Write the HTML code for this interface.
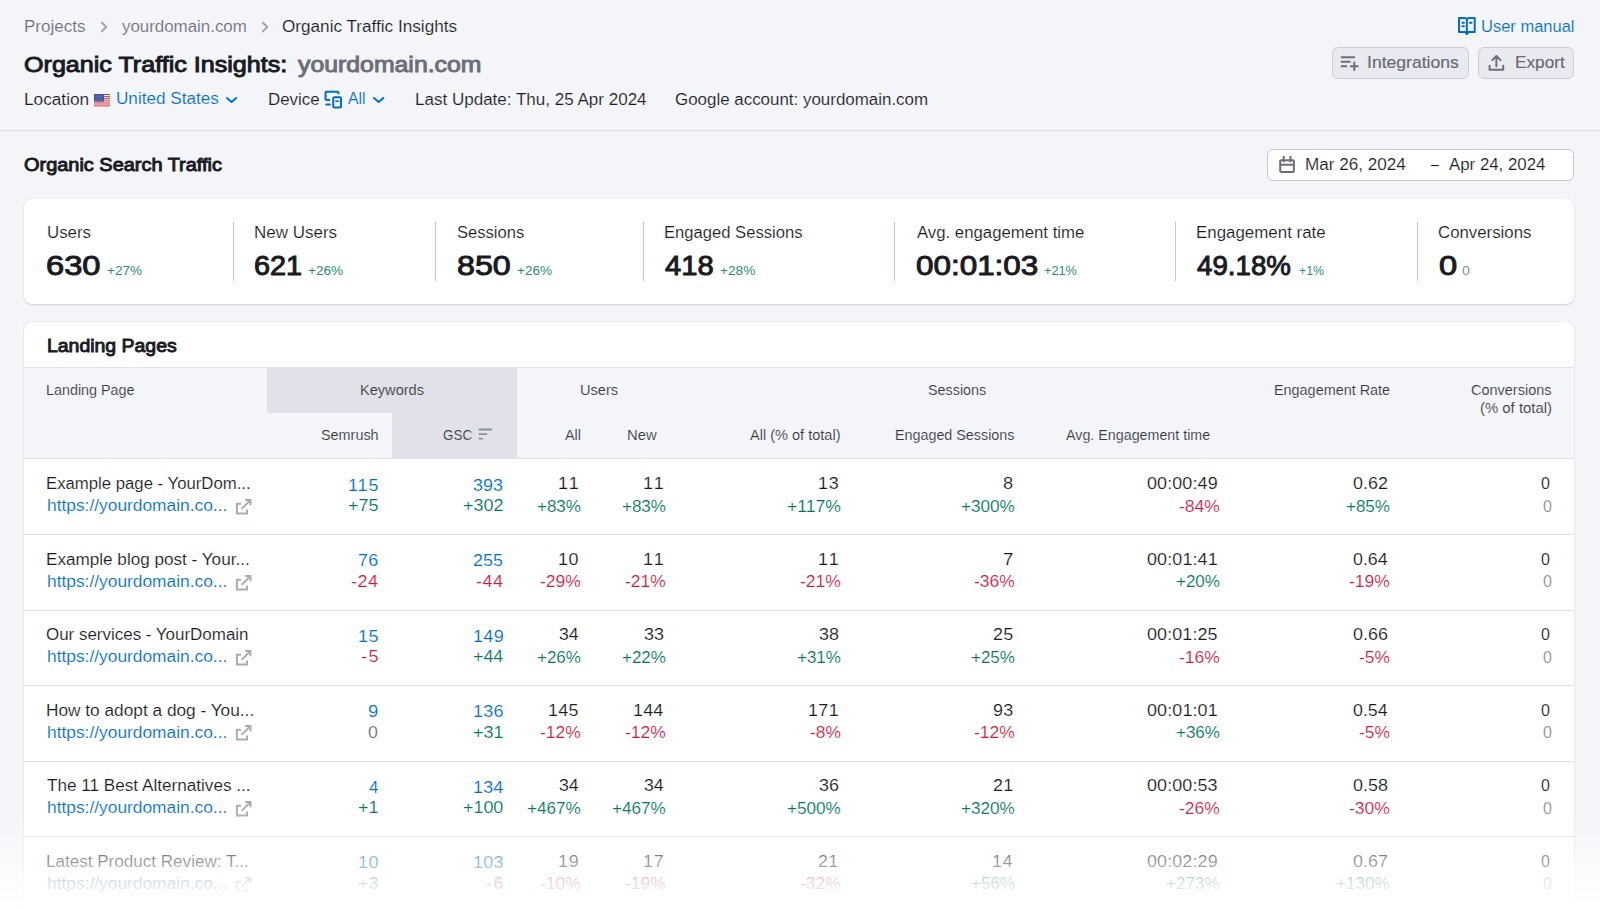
<!DOCTYPE html>
<html lang="en"><head><meta charset="utf-8"><title>Organic Traffic Insights</title>
<style>
*{box-sizing:border-box;margin:0;padding:0}
h1,h2{font-weight:400}
html,body{width:1600px;height:909px;overflow:hidden}
body{background:#f4f5f9;font-family:"Liberation Sans",sans-serif;color:#191b23;position:relative}
.t{position:absolute;white-space:nowrap;line-height:1;display:block;text-decoration:none;transform-origin:0 50%}
.abs{position:absolute}
.card{position:absolute;background:#fff;border-radius:8px;box-shadow:0 0 1px rgba(25,27,35,.16),0 1px 2px rgba(25,27,35,.12)}
.vline{position:absolute;width:1px;background:#c4c7cf}
.hline{position:absolute;height:1px;background:#e0e1e9}
.btn{position:absolute;background:#e9eaf0;border:1px solid #cdcfd8;border-radius:6px}
svg{position:absolute;overflow:visible}
</style></head>
<body>
<header>
<nav>
<a class="t" style="left:23.82px;top:19px;font-size:16px;color:#6c6e79;transform:scaleX(1.0648);-webkit-text-stroke:0.15px #f4f5f9;">Projects</a>
<svg style="left:100px;top:20px" width="9" height="14" viewBox="0 0 9 14"><path d="M1.9 2.7 L6.3 7 L1.9 11.3" fill="none" stroke="#a2a5b0" stroke-width="2" stroke-linecap="round" stroke-linejoin="round"/></svg>
<a class="t" style="left:122.13px;top:19px;font-size:16px;color:#6c6e79;transform:scaleX(1.0549);-webkit-text-stroke:0.15px #f4f5f9;">yourdomain.com</a>
<svg style="left:261.4px;top:20px" width="9" height="14" viewBox="0 0 9 14"><path d="M1.9 2.7 L6.3 7 L1.9 11.3" fill="none" stroke="#a2a5b0" stroke-width="2" stroke-linecap="round" stroke-linejoin="round"/></svg>
<span class="t" style="left:282.46px;top:19px;font-size:16px;color:#191b23;transform:scaleX(1.0717);-webkit-text-stroke:0.15px #f4f5f9;">Organic Traffic Insights</span>
</nav>
<h1 class="t" style="left:24.10px;top:54px;font-size:22px;color:#191b23;transform:scaleX(1.1414);-webkit-text-stroke:0.95px #191b23;">Organic Traffic Insights:</h1>
<span class="t" style="left:298.33px;top:54px;font-size:22px;color:#6c6e79;transform:scaleX(1.1282);-webkit-text-stroke:0.95px #6c6e79;">yourdomain.com</span>
<span class="t" style="left:23.81px;top:92px;font-size:16px;color:#191b23;transform:scaleX(1.0772);-webkit-text-stroke:0.15px #f4f5f9;">Location</span>
<svg style="left:94px;top:94px" width="16" height="12.4" viewBox="0 0 16 12.4"><rect width="16" height="12.4" fill="#fff"/><rect y="0.00" width="16" height="0.95" fill="#d22f3c"/><rect y="1.90" width="16" height="0.95" fill="#d22f3c"/><rect y="3.80" width="16" height="0.95" fill="#d22f3c"/><rect y="5.70" width="16" height="0.95" fill="#d22f3c"/><rect y="7.60" width="16" height="0.95" fill="#d22f3c"/><rect y="9.50" width="16" height="0.95" fill="#d22f3c"/><rect y="11.40" width="16" height="0.95" fill="#d22f3c"/><rect width="10" height="7.6" fill="#3c4f9f"/><circle cx="1.20" cy="1.10" r="0.38" fill="#c9cfe8"/><circle cx="3.10" cy="1.10" r="0.38" fill="#c9cfe8"/><circle cx="5.00" cy="1.10" r="0.38" fill="#c9cfe8"/><circle cx="6.90" cy="1.10" r="0.38" fill="#c9cfe8"/><circle cx="8.80" cy="1.10" r="0.38" fill="#c9cfe8"/><circle cx="2.15" cy="2.45" r="0.38" fill="#c9cfe8"/><circle cx="4.05" cy="2.45" r="0.38" fill="#c9cfe8"/><circle cx="5.95" cy="2.45" r="0.38" fill="#c9cfe8"/><circle cx="7.85" cy="2.45" r="0.38" fill="#c9cfe8"/><circle cx="1.20" cy="3.80" r="0.38" fill="#c9cfe8"/><circle cx="3.10" cy="3.80" r="0.38" fill="#c9cfe8"/><circle cx="5.00" cy="3.80" r="0.38" fill="#c9cfe8"/><circle cx="6.90" cy="3.80" r="0.38" fill="#c9cfe8"/><circle cx="8.80" cy="3.80" r="0.38" fill="#c9cfe8"/><circle cx="2.15" cy="5.15" r="0.38" fill="#c9cfe8"/><circle cx="4.05" cy="5.15" r="0.38" fill="#c9cfe8"/><circle cx="5.95" cy="5.15" r="0.38" fill="#c9cfe8"/><circle cx="7.85" cy="5.15" r="0.38" fill="#c9cfe8"/><circle cx="1.20" cy="6.50" r="0.38" fill="#c9cfe8"/><circle cx="3.10" cy="6.50" r="0.38" fill="#c9cfe8"/><circle cx="5.00" cy="6.50" r="0.38" fill="#c9cfe8"/><circle cx="6.90" cy="6.50" r="0.38" fill="#c9cfe8"/><circle cx="8.80" cy="6.50" r="0.38" fill="#c9cfe8"/></svg>
<span class="t" style="left:116.00px;top:91px;font-size:16px;color:#006dca;transform:scaleX(1.0699);-webkit-text-stroke:0.15px #f4f5f9;">United States</span>
<svg style="left:225px;top:95px" width="14" height="10" viewBox="0 0 14 10"><path d="M2 3 L6.6 6.9 L11.2 3" fill="none" stroke="#006dca" stroke-width="2" stroke-linecap="round" stroke-linejoin="round"/></svg>
<span class="t" style="left:268.18px;top:92px;font-size:16px;color:#191b23;transform:scaleX(1.0564);-webkit-text-stroke:0.15px #f4f5f9;">Device</span>
<svg style="left:324px;top:89.5px" width="19" height="19" viewBox="0 0 19 19"><path d="M1.5 10 V2.9 Q1.5 1.75 2.7 1.75 H13.3 Q14.5 1.75 14.5 2.9 V4.2 M1.5 10 H6" fill="none" stroke="#006dca" stroke-width="2"/><path d="M2.2 14.6 H5.8" fill="none" stroke="#006dca" stroke-width="2" stroke-linecap="round"/><rect x="9.25" y="7.25" width="7.75" height="10.25" rx="1" fill="none" stroke="#006dca" stroke-width="2"/><path d="M11.8 11.3 H14.6" fill="none" stroke="#006dca" stroke-width="1.4" stroke-linecap="round"/></svg>
<span class="t" style="left:348.30px;top:91px;font-size:16px;color:#006dca;transform:scaleX(0.9843);-webkit-text-stroke:0.15px #f4f5f9;">All</span>
<svg style="left:372px;top:95px" width="14" height="10" viewBox="0 0 14 10"><path d="M2 3 L6.6 6.9 L11.2 3" fill="none" stroke="#006dca" stroke-width="2" stroke-linecap="round" stroke-linejoin="round"/></svg>
<span class="t" style="left:415.02px;top:92px;font-size:16px;color:#191b23;transform:scaleX(1.0640);-webkit-text-stroke:0.15px #f4f5f9;">Last Update: Thu, 25 Apr 2024</span>
<span class="t" style="left:674.92px;top:92px;font-size:16px;color:#191b23;transform:scaleX(1.0578);-webkit-text-stroke:0.15px #f4f5f9;">Google account: yourdomain.com</span>
<svg style="left:1458.4px;top:16.9px" width="18" height="18" viewBox="0 0 18 18"><path d="M1 1 H7.2 L8.85 2.3 L10.5 1 H16.7 V15 H10.6 L8.85 17.2 L7.1 15 H1 Z M8.85 2.3 V16.5" fill="none" stroke="#006dca" stroke-width="2" stroke-linejoin="round"/><path d="M4.3 5.8 H5.9 M4.3 9.2 H5.9 M11.9 5.8 H13.5" fill="none" stroke="#006dca" stroke-width="2" stroke-linecap="round"/></svg>
<a class="t" style="left:1481.25px;top:19px;font-size:16px;color:#006dca;transform:scaleX(1.0308);-webkit-text-stroke:0.15px #f4f5f9;">User manual</a>
<div class="btn" style="left:1332px;top:47px;width:137px;height:31.5px"></div>
<svg style="left:1340px;top:55px" width="19" height="17" viewBox="0 0 19 17"><path d="M1.6 2.2 H14.2 M1.6 6.7 H9.8 M1.6 11.2 H6.2 M10.8 11.2 H17.8 M14.3 7.6 V15" fill="none" stroke="#6c6e79" stroke-width="2" stroke-linecap="round"/></svg>
<span class="t" style="left:1367.41px;top:55px;font-size:16px;color:#676975;transform:scaleX(1.0985);-webkit-text-stroke:0.15px #676975;">Integrations</span>
<div class="btn" style="left:1478px;top:47px;width:96px;height:31.5px"></div>
<svg style="left:1488px;top:54px" width="17" height="17" viewBox="0 0 17 17"><path d="M8.4 12.2 V2.4 M4.3 6.1 L8.4 2 L12.5 6.1" fill="none" stroke="#6c6e79" stroke-width="2" stroke-linecap="round" stroke-linejoin="round"/><path d="M1.6 11.8 V15.7 H15.2 V11.8" fill="none" stroke="#6c6e79" stroke-width="2" stroke-linecap="round" stroke-linejoin="round"/></svg>
<span class="t" style="left:1514.57px;top:55px;font-size:16px;color:#676975;transform:scaleX(1.0758);-webkit-text-stroke:0.15px #676975;">Export</span>
<div class="hline" style="left:0;top:130px;width:1600px;background:#d9dbe3"></div>
</header>
<section>
<h2 class="t" style="left:24.32px;top:157px;font-size:17.5px;color:#191b23;transform:scaleX(1.1390);-webkit-text-stroke:0.9px #191b23;">Organic Search Traffic</h2>
<div class="abs" style="left:1267px;top:149px;width:307.3px;height:31.5px;background:#fff;border:1px solid #c4c7cf;border-radius:6px"></div>
<svg style="left:1279px;top:155px" width="17" height="19" viewBox="0 0 17 19"><rect x="1.2" y="5.2" width="13.7" height="11.7" rx="1" fill="none" stroke="#6c6e79" stroke-width="2"/><path d="M1.2 9.8 H14.9 M4.7 1 V7.2 M11.5 1 V7.2" fill="none" stroke="#6c6e79" stroke-width="2"/></svg>
<span class="t" style="left:1305.02px;top:157px;font-size:16px;color:#191b23;transform:scaleX(1.0684);-webkit-text-stroke:0.15px #fff;">Mar 26, 2024</span>
<span class="t" style="left:1430.98px;top:157px;font-size:16px;color:#191b23;transform:scaleX(0.8872);-webkit-text-stroke:0.15px #fff;">–</span>
<span class="t" style="left:1449.39px;top:157px;font-size:16px;color:#191b23;transform:scaleX(1.0527);-webkit-text-stroke:0.15px #fff;">Apr 24, 2024</span>
<div class="card" style="left:24px;top:199px;width:1550.3px;height:104.5px"></div>
<span class="t" style="left:46.52px;top:225px;font-size:16px;color:#191b23;transform:scaleX(1.0515);-webkit-text-stroke:0.15px #fff;">Users</span>
<span class="t" style="left:46.27px;top:253px;font-size:27px;color:#191b23;transform:scaleX(1.2107);-webkit-text-stroke:0.95px #191b23;">630</span>
<span class="t" style="left:106.69px;top:265px;font-size:12.5px;color:#2f8a78;transform:scaleX(1.0797);">+27%</span>
<div class="vline" style="left:232.5px;top:222px;height:58.5px"></div>
<span class="t" style="left:253.93px;top:225px;font-size:16px;color:#191b23;transform:scaleX(1.0614);-webkit-text-stroke:0.15px #fff;">New Users</span>
<span class="t" style="left:253.89px;top:253px;font-size:27px;color:#191b23;transform:scaleX(1.0680);-webkit-text-stroke:0.95px #191b23;">621</span>
<span class="t" style="left:308.44px;top:265px;font-size:12.5px;color:#2f8a78;transform:scaleX(1.0877);">+26%</span>
<div class="vline" style="left:435.0px;top:222px;height:58.5px"></div>
<span class="t" style="left:456.52px;top:225px;font-size:16px;color:#191b23;transform:scaleX(1.0360);-webkit-text-stroke:0.15px #fff;">Sessions</span>
<span class="t" style="left:456.52px;top:253px;font-size:27px;color:#191b23;transform:scaleX(1.1938);-webkit-text-stroke:0.95px #191b23;">850</span>
<span class="t" style="left:516.69px;top:265px;font-size:12.5px;color:#2f8a78;transform:scaleX(1.0797);">+26%</span>
<div class="vline" style="left:643.0px;top:222px;height:58.5px"></div>
<span class="t" style="left:664.46px;top:225px;font-size:16px;color:#191b23;transform:scaleX(1.0379);-webkit-text-stroke:0.15px #fff;">Engaged Sessions</span>
<span class="t" style="left:665.19px;top:253px;font-size:27px;color:#191b23;transform:scaleX(1.0803);-webkit-text-stroke:0.95px #191b23;">418</span>
<span class="t" style="left:719.68px;top:265px;font-size:12.5px;color:#2f8a78;transform:scaleX(1.0957);">+28%</span>
<div class="vline" style="left:894.0px;top:222px;height:58.5px"></div>
<span class="t" style="left:916.79px;top:225px;font-size:16px;color:#191b23;transform:scaleX(1.0469);-webkit-text-stroke:0.15px #fff;">Avg. engagement time</span>
<span class="t" style="left:915.68px;top:253px;font-size:27px;color:#191b23;transform:scaleX(1.1632);-webkit-text-stroke:0.95px #191b23;">00:01:03</span>
<span class="t" style="left:1043.73px;top:265px;font-size:12.5px;color:#2f8a78;transform:scaleX(1.0158);">+21%</span>
<div class="vline" style="left:1175.0px;top:222px;height:58.5px"></div>
<span class="t" style="left:1196.43px;top:225px;font-size:16px;color:#191b23;transform:scaleX(1.0563);-webkit-text-stroke:0.15px #fff;">Engagement rate</span>
<span class="t" style="left:1197.20px;top:253px;font-size:27px;color:#191b23;transform:scaleX(1.0254);-webkit-text-stroke:0.95px #191b23;">49.18%</span>
<span class="t" style="left:1298.75px;top:265px;font-size:12.5px;color:#2f8a78;transform:scaleX(0.9772);">+1%</span>
<div class="vline" style="left:1417.0px;top:222px;height:58.5px"></div>
<span class="t" style="left:1438.42px;top:225px;font-size:16px;color:#191b23;transform:scaleX(1.0500);-webkit-text-stroke:0.15px #fff;">Conversions</span>
<span class="t" style="left:1438.65px;top:253px;font-size:27px;color:#191b23;transform:scaleX(1.2092);-webkit-text-stroke:0.95px #191b23;">0</span>
<span class="t" style="left:1462.30px;top:265px;font-size:12.5px;color:#898d9a;transform:scaleX(1.1305);">0</span>
</section>
<section>
<div class="card" style="left:24px;top:322px;width:1550.3px;height:640px;overflow:hidden"><div class="abs" style="left:0;top:45px;width:1551px;height:92px;background:#f4f5f9;border-top:1px solid #e0e1e9;border-bottom:1px solid #e0e1e9"></div><div class="abs" style="left:243px;top:46px;width:249.6px;height:45px;background:#e0e1e9"></div><div class="abs" style="left:367.8px;top:91px;width:124.8px;height:45.5px;background:#e0e1e9"></div></div>
<h2 class="t" style="left:46.69px;top:337px;font-size:18px;color:#191b23;transform:scaleX(1.0799);-webkit-text-stroke:0.9px #191b23;">Landing Pages</h2>
<span class="t" style="left:46.26px;top:383px;font-size:14px;color:#363944;transform:scaleX(1.0244);-webkit-text-stroke:0.131px #f4f5f9;">Landing Page</span>
<span class="t" style="left:359.69px;top:383px;font-size:14px;color:#363944;transform:scaleX(1.0414);-webkit-text-stroke:0.131px #e0e1e9;">Keywords</span>
<span class="t" style="left:579.50px;top:383px;font-size:14px;color:#363944;transform:scaleX(1.0439);-webkit-text-stroke:0.131px #f4f5f9;">Users</span>
<span class="t" style="left:927.83px;top:383px;font-size:14px;color:#363944;transform:scaleX(1.0256);-webkit-text-stroke:0.131px #f4f5f9;">Sessions</span>
<span class="t" style="left:1274.25px;top:383px;font-size:14px;color:#363944;transform:scaleX(1.0284);-webkit-text-stroke:0.131px #f4f5f9;">Engagement Rate</span>
<span class="t" style="left:1471.40px;top:383px;font-size:14px;color:#363944;transform:scaleX(1.0345);-webkit-text-stroke:0.131px #f4f5f9;">Conversions</span>
<span class="t" style="left:1480.31px;top:401px;font-size:14px;color:#363944;transform:scaleX(1.0635);-webkit-text-stroke:0.131px #f4f5f9;">(% of total)</span>
<span class="t" style="left:321.08px;top:428px;font-size:14px;color:#363944;transform:scaleX(1.0286);-webkit-text-stroke:0.131px #f4f5f9;">Semrush</span>
<span class="t" style="left:442.61px;top:428px;font-size:14px;color:#363944;transform:scaleX(0.9581);-webkit-text-stroke:0.131px #e0e1e9;">GSC</span>
<svg style="left:478px;top:428px" width="15" height="12" viewBox="0 0 15 12"><path d="M1.4 1.5 H13.2 M1.4 6.1 H8.4 M1.4 10.6 H4.2" fill="none" stroke="#8a8e9b" stroke-width="1.8" stroke-linecap="round"/></svg>
<span class="t" style="left:565.00px;top:428px;font-size:14px;color:#363944;transform:scaleX(1.0302);-webkit-text-stroke:0.131px #f4f5f9;">All</span>
<span class="t" style="left:626.52px;top:428px;font-size:14px;color:#363944;transform:scaleX(1.0575);-webkit-text-stroke:0.131px #f4f5f9;">New</span>
<span class="t" style="left:750.20px;top:428px;font-size:14px;color:#363944;transform:scaleX(1.0382);-webkit-text-stroke:0.131px #f4f5f9;">All (% of total)</span>
<span class="t" style="left:895.36px;top:428px;font-size:14px;color:#363944;transform:scaleX(1.0229);-webkit-text-stroke:0.131px #f4f5f9;">Engaged Sessions</span>
<span class="t" style="left:1066.11px;top:428px;font-size:14px;color:#363944;transform:scaleX(1.0199);-webkit-text-stroke:0.131px #f4f5f9;">Avg. Engagement time</span>
<span class="t" style="left:46.45px;top:476px;font-size:16px;color:#191b23;transform:scaleX(1.0458);-webkit-text-stroke:0.15px #fff;">Example page - YourDom...</span>
<a class="t" style="left:46.62px;top:498px;font-size:16px;color:#006dca;transform:scaleX(1.0843);-webkit-text-stroke:0.15px #fff;">https://yourdomain.co...</a>
<svg style="left:235px;top:498px" width="17" height="17" viewBox="0 0 17 17"><path d="M6 5.7 H1.9 V15.5 H12 V11.4 M6.6 10.9 L15.2 2.3 M10.2 2 H15.5 V7.3" fill="none" stroke="#a9abb6" stroke-width="2"/></svg>
<span class="t" style="left:347.70px;top:478px;font-size:16px;color:#006dca;letter-spacing:0.878px;transform:scaleX(1.1200);-webkit-text-stroke:0.15px #fff;">115</span>
<span class="t" style="left:347.84px;top:498px;font-size:16px;color:#00755f;transform:scaleX(1.1199);-webkit-text-stroke:0.15px #fff;">+75</span>
<span class="t" style="left:473.38px;top:478px;font-size:16px;color:#006dca;transform:scaleX(1.1196);-webkit-text-stroke:0.15px #fff;">393</span>
<span class="t" style="left:462.89px;top:498px;font-size:16px;color:#00755f;letter-spacing:0.039px;transform:scaleX(1.1200);-webkit-text-stroke:0.15px #fff;">+302</span>
<span class="t" style="left:557.85px;top:476px;font-size:16px;color:#191b23;letter-spacing:1.880px;transform:scaleX(1.1200);-webkit-text-stroke:0.15px #fff;">11</span>
<span class="t" style="left:536.59px;top:499px;font-size:16px;color:#00755f;transform:scaleX(1.0611);-webkit-text-stroke:0.15px #fff;">+83%</span>
<span class="t" style="left:643.15px;top:476px;font-size:16px;color:#191b23;letter-spacing:1.880px;transform:scaleX(1.1200);-webkit-text-stroke:0.15px #fff;">11</span>
<span class="t" style="left:621.89px;top:499px;font-size:16px;color:#00755f;transform:scaleX(1.0611);-webkit-text-stroke:0.15px #fff;">+83%</span>
<span class="t" style="left:817.95px;top:476px;font-size:16px;color:#191b23;letter-spacing:0.614px;transform:scaleX(1.1200);-webkit-text-stroke:0.15px #fff;">13</span>
<span class="t" style="left:786.71px;top:499px;font-size:16px;color:#00755f;transform:scaleX(1.0982);-webkit-text-stroke:0.15px #fff;">+117%</span>
<span class="t" style="left:1002.78px;top:476px;font-size:16px;color:#191b23;transform:scaleX(1.1348);-webkit-text-stroke:0.15px #fff;">8</span>
<span class="t" style="left:961.03px;top:499px;font-size:16px;color:#00755f;transform:scaleX(1.0715);-webkit-text-stroke:0.15px #fff;">+300%</span>
<span class="t" style="left:1146.92px;top:476px;font-size:16px;color:#191b23;letter-spacing:0.110px;transform:scaleX(1.1200);-webkit-text-stroke:0.15px #fff;">00:00:49</span>
<span class="t" style="left:1178.64px;top:499px;font-size:16px;color:#cf1a3f;transform:scaleX(1.0941);-webkit-text-stroke:0.15px #fff;">-84%</span>
<span class="t" style="left:1353.37px;top:476px;font-size:16px;color:#191b23;letter-spacing:0.042px;transform:scaleX(1.1200);-webkit-text-stroke:0.15px #fff;">0.62</span>
<span class="t" style="left:1346.39px;top:499px;font-size:16px;color:#00755f;transform:scaleX(1.0611);-webkit-text-stroke:0.15px #fff;">+85%</span>
<span class="t" style="left:1540.90px;top:476px;font-size:16px;color:#191b23;-webkit-text-stroke:0.15px #fff;">0</span>
<span class="t" style="left:1542.90px;top:499px;font-size:16px;color:#898d9a;-webkit-text-stroke:0.15px #fff;">0</span>
<div class="hline" style="left:24px;top:534.0px;width:1550.5px"></div>
<span class="t" style="left:46.42px;top:552px;font-size:16px;color:#191b23;transform:scaleX(1.0701);-webkit-text-stroke:0.15px #fff;">Example blog post - Your...</span>
<a class="t" style="left:46.62px;top:574px;font-size:16px;color:#006dca;transform:scaleX(1.0843);-webkit-text-stroke:0.15px #fff;">https://yourdomain.co...</a>
<svg style="left:235px;top:574px" width="17" height="17" viewBox="0 0 17 17"><path d="M6 5.7 H1.9 V15.5 H12 V11.4 M6.6 10.9 L15.2 2.3 M10.2 2 H15.5 V7.3" fill="none" stroke="#a9abb6" stroke-width="2"/></svg>
<span class="t" style="left:358.10px;top:553px;font-size:16px;color:#006dca;letter-spacing:0.216px;transform:scaleX(1.1200);-webkit-text-stroke:0.15px #fff;">76</span>
<span class="t" style="left:350.92px;top:574px;font-size:16px;color:#cf1a3f;letter-spacing:0.531px;transform:scaleX(1.1200);-webkit-text-stroke:0.15px #fff;">-24</span>
<span class="t" style="left:473.16px;top:553px;font-size:16px;color:#006dca;letter-spacing:0.077px;transform:scaleX(1.1200);-webkit-text-stroke:0.15px #fff;">255</span>
<span class="t" style="left:475.92px;top:574px;font-size:16px;color:#cf1a3f;letter-spacing:0.531px;transform:scaleX(1.1200);-webkit-text-stroke:0.15px #fff;">-44</span>
<span class="t" style="left:557.85px;top:552px;font-size:16px;color:#191b23;letter-spacing:0.536px;transform:scaleX(1.1200);-webkit-text-stroke:0.15px #fff;">10</span>
<span class="t" style="left:539.64px;top:574px;font-size:16px;color:#cf1a3f;transform:scaleX(1.0941);-webkit-text-stroke:0.15px #fff;">-29%</span>
<span class="t" style="left:643.15px;top:552px;font-size:16px;color:#191b23;letter-spacing:1.880px;transform:scaleX(1.1200);-webkit-text-stroke:0.15px #fff;">11</span>
<span class="t" style="left:624.94px;top:574px;font-size:16px;color:#cf1a3f;transform:scaleX(1.0941);-webkit-text-stroke:0.15px #fff;">-21%</span>
<span class="t" style="left:817.95px;top:552px;font-size:16px;color:#191b23;letter-spacing:1.880px;transform:scaleX(1.1200);-webkit-text-stroke:0.15px #fff;">11</span>
<span class="t" style="left:799.74px;top:574px;font-size:16px;color:#cf1a3f;transform:scaleX(1.0941);-webkit-text-stroke:0.15px #fff;">-21%</span>
<span class="t" style="left:1002.60px;top:552px;font-size:16px;color:#191b23;transform:scaleX(1.1722);-webkit-text-stroke:0.15px #fff;">7</span>
<span class="t" style="left:974.04px;top:574px;font-size:16px;color:#cf1a3f;transform:scaleX(1.0941);-webkit-text-stroke:0.15px #fff;">-36%</span>
<span class="t" style="left:1146.92px;top:552px;font-size:16px;color:#191b23;letter-spacing:0.113px;transform:scaleX(1.1200);-webkit-text-stroke:0.15px #fff;">00:01:41</span>
<span class="t" style="left:1175.59px;top:574px;font-size:16px;color:#00755f;transform:scaleX(1.0611);-webkit-text-stroke:0.15px #fff;">+20%</span>
<span class="t" style="left:1353.37px;top:552px;font-size:16px;color:#191b23;transform:scaleX(1.1122);-webkit-text-stroke:0.15px #fff;">0.64</span>
<span class="t" style="left:1349.44px;top:574px;font-size:16px;color:#cf1a3f;transform:scaleX(1.0941);-webkit-text-stroke:0.15px #fff;">-19%</span>
<span class="t" style="left:1540.90px;top:552px;font-size:16px;color:#191b23;-webkit-text-stroke:0.15px #fff;">0</span>
<span class="t" style="left:1542.90px;top:574px;font-size:16px;color:#898d9a;-webkit-text-stroke:0.15px #fff;">0</span>
<div class="hline" style="left:24px;top:609.5px;width:1550.5px"></div>
<span class="t" style="left:46.47px;top:627px;font-size:16px;color:#191b23;transform:scaleX(1.0592);-webkit-text-stroke:0.15px #fff;">Our services - YourDomain</span>
<a class="t" style="left:46.62px;top:649px;font-size:16px;color:#006dca;transform:scaleX(1.0843);-webkit-text-stroke:0.15px #fff;">https://yourdomain.co...</a>
<svg style="left:235px;top:649px" width="17" height="17" viewBox="0 0 17 17"><path d="M6 5.7 H1.9 V15.5 H12 V11.4 M6.6 10.9 L15.2 2.3 M10.2 2 H15.5 V7.3" fill="none" stroke="#a9abb6" stroke-width="2"/></svg>
<span class="t" style="left:357.65px;top:629px;font-size:16px;color:#006dca;letter-spacing:0.583px;transform:scaleX(1.1200);-webkit-text-stroke:0.15px #fff;">15</span>
<span class="t" style="left:360.87px;top:649px;font-size:16px;color:#cf1a3f;letter-spacing:1.279px;transform:scaleX(1.1200);-webkit-text-stroke:0.15px #fff;">-5</span>
<span class="t" style="left:472.70px;top:629px;font-size:16px;color:#006dca;letter-spacing:0.327px;transform:scaleX(1.1200);-webkit-text-stroke:0.15px #fff;">149</span>
<span class="t" style="left:472.85px;top:649px;font-size:16px;color:#00755f;transform:scaleX(1.1111);-webkit-text-stroke:0.15px #fff;">+44</span>
<span class="t" style="left:558.54px;top:627px;font-size:16px;color:#191b23;transform:scaleX(1.1045);-webkit-text-stroke:0.15px #fff;">34</span>
<span class="t" style="left:536.59px;top:650px;font-size:16px;color:#00755f;transform:scaleX(1.0611);-webkit-text-stroke:0.15px #fff;">+26%</span>
<span class="t" style="left:643.83px;top:627px;font-size:16px;color:#191b23;letter-spacing:0.005px;transform:scaleX(1.1200);-webkit-text-stroke:0.15px #fff;">33</span>
<span class="t" style="left:621.89px;top:650px;font-size:16px;color:#00755f;transform:scaleX(1.0611);-webkit-text-stroke:0.15px #fff;">+22%</span>
<span class="t" style="left:818.63px;top:627px;font-size:16px;color:#191b23;transform:scaleX(1.1198);-webkit-text-stroke:0.15px #fff;">38</span>
<span class="t" style="left:796.69px;top:650px;font-size:16px;color:#00755f;transform:scaleX(1.0611);-webkit-text-stroke:0.15px #fff;">+31%</span>
<span class="t" style="left:992.71px;top:627px;font-size:16px;color:#191b23;letter-spacing:0.169px;transform:scaleX(1.1200);-webkit-text-stroke:0.15px #fff;">25</span>
<span class="t" style="left:970.99px;top:650px;font-size:16px;color:#00755f;transform:scaleX(1.0611);-webkit-text-stroke:0.15px #fff;">+25%</span>
<span class="t" style="left:1146.92px;top:627px;font-size:16px;color:#191b23;letter-spacing:0.098px;transform:scaleX(1.1200);-webkit-text-stroke:0.15px #fff;">00:01:25</span>
<span class="t" style="left:1178.64px;top:650px;font-size:16px;color:#cf1a3f;transform:scaleX(1.0941);-webkit-text-stroke:0.15px #fff;">-16%</span>
<span class="t" style="left:1353.37px;top:627px;font-size:16px;color:#191b23;letter-spacing:0.008px;transform:scaleX(1.1200);-webkit-text-stroke:0.15px #fff;">0.66</span>
<span class="t" style="left:1359.40px;top:650px;font-size:16px;color:#cf1a3f;transform:scaleX(1.0862);-webkit-text-stroke:0.15px #fff;">-5%</span>
<span class="t" style="left:1540.90px;top:627px;font-size:16px;color:#191b23;-webkit-text-stroke:0.15px #fff;">0</span>
<span class="t" style="left:1542.90px;top:650px;font-size:16px;color:#898d9a;-webkit-text-stroke:0.15px #fff;">0</span>
<div class="hline" style="left:24px;top:685.0px;width:1550.5px"></div>
<span class="t" style="left:46.40px;top:703px;font-size:16px;color:#191b23;transform:scaleX(1.0786);-webkit-text-stroke:0.15px #fff;">How to adopt a dog - You...</span>
<a class="t" style="left:46.62px;top:725px;font-size:16px;color:#006dca;transform:scaleX(1.0843);-webkit-text-stroke:0.15px #fff;">https://yourdomain.co...</a>
<svg style="left:235px;top:724px" width="17" height="17" viewBox="0 0 17 17"><path d="M6 5.7 H1.9 V15.5 H12 V11.4 M6.6 10.9 L15.2 2.3 M10.2 2 H15.5 V7.3" fill="none" stroke="#a9abb6" stroke-width="2"/></svg>
<span class="t" style="left:368.10px;top:704px;font-size:16px;color:#006dca;transform:scaleX(1.1532);-webkit-text-stroke:0.15px #fff;">9</span>
<span class="t" style="left:368.27px;top:725px;font-size:16px;color:#6c6e79;transform:scaleX(1.1136);-webkit-text-stroke:0.15px #fff;">0</span>
<span class="t" style="left:472.70px;top:704px;font-size:16px;color:#006dca;letter-spacing:0.300px;transform:scaleX(1.1200);-webkit-text-stroke:0.15px #fff;">136</span>
<span class="t" style="left:472.84px;top:725px;font-size:16px;color:#00755f;letter-spacing:0.054px;transform:scaleX(1.1200);-webkit-text-stroke:0.15px #fff;">+31</span>
<span class="t" style="left:547.90px;top:703px;font-size:16px;color:#191b23;letter-spacing:0.284px;transform:scaleX(1.1200);-webkit-text-stroke:0.15px #fff;">145</span>
<span class="t" style="left:539.64px;top:725px;font-size:16px;color:#cf1a3f;transform:scaleX(1.0941);-webkit-text-stroke:0.15px #fff;">-12%</span>
<span class="t" style="left:633.20px;top:703px;font-size:16px;color:#191b23;letter-spacing:0.183px;transform:scaleX(1.1200);-webkit-text-stroke:0.15px #fff;">144</span>
<span class="t" style="left:624.94px;top:725px;font-size:16px;color:#cf1a3f;transform:scaleX(1.0941);-webkit-text-stroke:0.15px #fff;">-12%</span>
<span class="t" style="left:808.00px;top:703px;font-size:16px;color:#191b23;letter-spacing:0.339px;transform:scaleX(1.1200);-webkit-text-stroke:0.15px #fff;">171</span>
<span class="t" style="left:809.70px;top:725px;font-size:16px;color:#cf1a3f;transform:scaleX(1.0862);-webkit-text-stroke:0.15px #fff;">-8%</span>
<span class="t" style="left:992.78px;top:703px;font-size:16px;color:#191b23;letter-spacing:0.146px;transform:scaleX(1.1200);-webkit-text-stroke:0.15px #fff;">93</span>
<span class="t" style="left:974.04px;top:725px;font-size:16px;color:#cf1a3f;transform:scaleX(1.0941);-webkit-text-stroke:0.15px #fff;">-12%</span>
<span class="t" style="left:1146.92px;top:703px;font-size:16px;color:#191b23;letter-spacing:0.113px;transform:scaleX(1.1200);-webkit-text-stroke:0.15px #fff;">00:01:01</span>
<span class="t" style="left:1175.59px;top:725px;font-size:16px;color:#00755f;transform:scaleX(1.0611);-webkit-text-stroke:0.15px #fff;">+36%</span>
<span class="t" style="left:1353.37px;top:703px;font-size:16px;color:#191b23;transform:scaleX(1.1122);-webkit-text-stroke:0.15px #fff;">0.54</span>
<span class="t" style="left:1359.40px;top:725px;font-size:16px;color:#cf1a3f;transform:scaleX(1.0862);-webkit-text-stroke:0.15px #fff;">-5%</span>
<span class="t" style="left:1540.90px;top:703px;font-size:16px;color:#191b23;-webkit-text-stroke:0.15px #fff;">0</span>
<span class="t" style="left:1542.90px;top:725px;font-size:16px;color:#898d9a;-webkit-text-stroke:0.15px #fff;">0</span>
<div class="hline" style="left:24px;top:760.5px;width:1550.5px"></div>
<span class="t" style="left:47.43px;top:778px;font-size:16px;color:#191b23;transform:scaleX(1.0711);-webkit-text-stroke:0.15px #fff;">The 11 Best Alternatives ...</span>
<a class="t" style="left:46.62px;top:800px;font-size:16px;color:#006dca;transform:scaleX(1.0843);-webkit-text-stroke:0.15px #fff;">https://yourdomain.co...</a>
<svg style="left:235px;top:800px" width="17" height="17" viewBox="0 0 17 17"><path d="M6 5.7 H1.9 V15.5 H12 V11.4 M6.6 10.9 L15.2 2.3 M10.2 2 H15.5 V7.3" fill="none" stroke="#a9abb6" stroke-width="2"/></svg>
<span class="t" style="left:368.58px;top:780px;font-size:16px;color:#006dca;transform:scaleX(1.0553);-webkit-text-stroke:0.15px #fff;">4</span>
<span class="t" style="left:357.79px;top:800px;font-size:16px;color:#00755f;letter-spacing:0.122px;transform:scaleX(1.1200);-webkit-text-stroke:0.15px #fff;">+1</span>
<span class="t" style="left:472.70px;top:780px;font-size:16px;color:#006dca;letter-spacing:0.183px;transform:scaleX(1.1200);-webkit-text-stroke:0.15px #fff;">134</span>
<span class="t" style="left:462.89px;top:800px;font-size:16px;color:#00755f;transform:scaleX(1.1179);-webkit-text-stroke:0.15px #fff;">+100</span>
<span class="t" style="left:558.54px;top:778px;font-size:16px;color:#191b23;transform:scaleX(1.1045);-webkit-text-stroke:0.15px #fff;">34</span>
<span class="t" style="left:526.63px;top:801px;font-size:16px;color:#00755f;transform:scaleX(1.0715);-webkit-text-stroke:0.15px #fff;">+467%</span>
<span class="t" style="left:643.84px;top:778px;font-size:16px;color:#191b23;transform:scaleX(1.1045);-webkit-text-stroke:0.15px #fff;">34</span>
<span class="t" style="left:611.93px;top:801px;font-size:16px;color:#00755f;transform:scaleX(1.0715);-webkit-text-stroke:0.15px #fff;">+467%</span>
<span class="t" style="left:818.63px;top:778px;font-size:16px;color:#191b23;letter-spacing:0.005px;transform:scaleX(1.1200);-webkit-text-stroke:0.15px #fff;">36</span>
<span class="t" style="left:786.73px;top:801px;font-size:16px;color:#00755f;transform:scaleX(1.0715);-webkit-text-stroke:0.15px #fff;">+500%</span>
<span class="t" style="left:992.71px;top:778px;font-size:16px;color:#191b23;letter-spacing:0.278px;transform:scaleX(1.1200);-webkit-text-stroke:0.15px #fff;">21</span>
<span class="t" style="left:961.03px;top:801px;font-size:16px;color:#00755f;transform:scaleX(1.0715);-webkit-text-stroke:0.15px #fff;">+320%</span>
<span class="t" style="left:1146.92px;top:778px;font-size:16px;color:#191b23;letter-spacing:0.102px;transform:scaleX(1.1200);-webkit-text-stroke:0.15px #fff;">00:00:53</span>
<span class="t" style="left:1178.64px;top:801px;font-size:16px;color:#cf1a3f;transform:scaleX(1.0941);-webkit-text-stroke:0.15px #fff;">-26%</span>
<span class="t" style="left:1353.37px;top:778px;font-size:16px;color:#191b23;letter-spacing:0.006px;transform:scaleX(1.1200);-webkit-text-stroke:0.15px #fff;">0.58</span>
<span class="t" style="left:1349.44px;top:801px;font-size:16px;color:#cf1a3f;transform:scaleX(1.0941);-webkit-text-stroke:0.15px #fff;">-30%</span>
<span class="t" style="left:1540.90px;top:778px;font-size:16px;color:#191b23;-webkit-text-stroke:0.15px #fff;">0</span>
<span class="t" style="left:1542.90px;top:801px;font-size:16px;color:#898d9a;-webkit-text-stroke:0.15px #fff;">0</span>
<div class="hline" style="left:24px;top:836.0px;width:1550.5px"></div>
<span class="t" style="left:46.42px;top:854px;font-size:16px;color:#191b23;transform:scaleX(1.0666);-webkit-text-stroke:0.15px #fff;">Latest Product Review: T...</span>
<a class="t" style="left:46.62px;top:876px;font-size:16px;color:#006dca;transform:scaleX(1.0843);-webkit-text-stroke:0.15px #fff;">https://yourdomain.co...</a>
<svg style="left:235px;top:876px" width="17" height="17" viewBox="0 0 17 17"><path d="M6 5.7 H1.9 V15.5 H12 V11.4 M6.6 10.9 L15.2 2.3 M10.2 2 H15.5 V7.3" fill="none" stroke="#a9abb6" stroke-width="2"/></svg>
<span class="t" style="left:357.65px;top:855px;font-size:16px;color:#006dca;letter-spacing:0.536px;transform:scaleX(1.1200);-webkit-text-stroke:0.15px #fff;">10</span>
<span class="t" style="left:357.79px;top:876px;font-size:16px;color:#00755f;letter-spacing:0.044px;transform:scaleX(1.1200);-webkit-text-stroke:0.15px #fff;">+3</span>
<span class="t" style="left:472.70px;top:855px;font-size:16px;color:#006dca;letter-spacing:0.300px;transform:scaleX(1.1200);-webkit-text-stroke:0.15px #fff;">103</span>
<span class="t" style="left:485.87px;top:876px;font-size:16px;color:#cf1a3f;letter-spacing:1.311px;transform:scaleX(1.1200);-webkit-text-stroke:0.15px #fff;">-6</span>
<span class="t" style="left:557.85px;top:854px;font-size:16px;color:#191b23;letter-spacing:0.669px;transform:scaleX(1.1200);-webkit-text-stroke:0.15px #fff;">19</span>
<span class="t" style="left:539.64px;top:876px;font-size:16px;color:#cf1a3f;transform:scaleX(1.0941);-webkit-text-stroke:0.15px #fff;">-10%</span>
<span class="t" style="left:643.15px;top:854px;font-size:16px;color:#191b23;letter-spacing:0.716px;transform:scaleX(1.1200);-webkit-text-stroke:0.15px #fff;">17</span>
<span class="t" style="left:624.94px;top:876px;font-size:16px;color:#cf1a3f;transform:scaleX(1.0941);-webkit-text-stroke:0.15px #fff;">-19%</span>
<span class="t" style="left:818.41px;top:854px;font-size:16px;color:#191b23;letter-spacing:0.278px;transform:scaleX(1.1200);-webkit-text-stroke:0.15px #fff;">21</span>
<span class="t" style="left:799.74px;top:876px;font-size:16px;color:#cf1a3f;transform:scaleX(1.0941);-webkit-text-stroke:0.15px #fff;">-32%</span>
<span class="t" style="left:992.25px;top:854px;font-size:16px;color:#191b23;letter-spacing:0.380px;transform:scaleX(1.1200);-webkit-text-stroke:0.15px #fff;">14</span>
<span class="t" style="left:970.99px;top:876px;font-size:16px;color:#00755f;transform:scaleX(1.0611);-webkit-text-stroke:0.15px #fff;">+56%</span>
<span class="t" style="left:1146.92px;top:854px;font-size:16px;color:#191b23;letter-spacing:0.110px;transform:scaleX(1.1200);-webkit-text-stroke:0.15px #fff;">00:02:29</span>
<span class="t" style="left:1165.63px;top:876px;font-size:16px;color:#00755f;transform:scaleX(1.0715);-webkit-text-stroke:0.15px #fff;">+273%</span>
<span class="t" style="left:1353.37px;top:854px;font-size:16px;color:#191b23;letter-spacing:0.042px;transform:scaleX(1.1200);-webkit-text-stroke:0.15px #fff;">0.67</span>
<span class="t" style="left:1336.43px;top:876px;font-size:16px;color:#00755f;transform:scaleX(1.0715);-webkit-text-stroke:0.15px #fff;">+130%</span>
<span class="t" style="left:1540.90px;top:854px;font-size:16px;color:#191b23;-webkit-text-stroke:0.15px #fff;">0</span>
<span class="t" style="left:1542.90px;top:876px;font-size:16px;color:#898d9a;-webkit-text-stroke:0.15px #fff;">0</span>
</section>
<div class="abs" style="left:0;top:806px;width:1600px;height:103px;background:linear-gradient(to bottom,rgba(255,255,255,0) 0,rgba(255,255,255,.2) 29px,rgba(255,255,255,.5) 54px,rgba(255,255,255,.8) 78px,rgba(255,255,255,.95) 92px,#fff 103px)"></div>
</body></html>
